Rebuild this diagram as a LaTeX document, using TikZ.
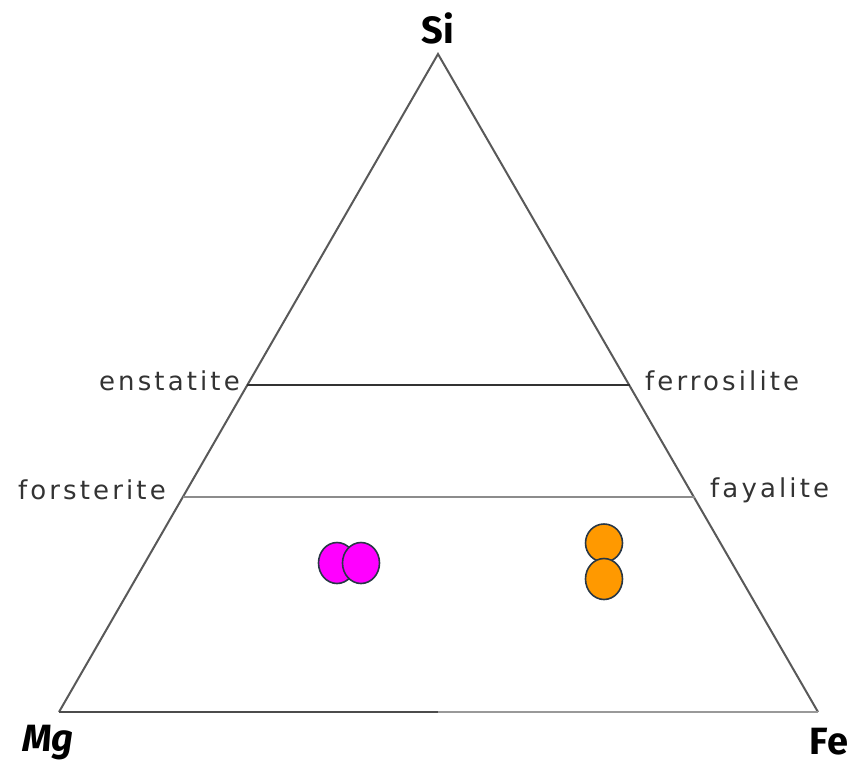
\documentclass[tikz,border=0pt]{standalone}
\usepackage{fontspec}
\setmainfont{Fira Sans}
\newfontfamily\lblfont[LetterSpace=12]{DejaVu Sans}
\definecolor{grainpink}{RGB}{255,0,255}
\definecolor{grainorange}{RGB}{255,153,0}
\definecolor{grainedge}{RGB}{40,55,70}
\begin{document}
\begin{tikzpicture}[x=1pt,y=-1pt,
  side/.style={draw=black!65, line width=2pt},
  tieline/.style={line width=2pt},
  lbl/.style={font=\lblfont\fontsize{26}{26}\selectfont, text=black!80, inner sep=0pt},
  corner/.style={font=\fontsize{38}{38}\selectfont\bfseries, inner sep=0pt},
  grain/.style={draw=grainedge, line width=1.6pt},
]
\useasboundingbox (0,0) rectangle (857,766);
\coordinate (si) at (438,54);
\coordinate (mg) at (59,712);
\coordinate (fe) at (818,712);
\coordinate (mid) at (438,712);
\coordinate (enL) at (247,385);
\coordinate (enR) at (630,385);
\coordinate (foL) at (183,497);
\coordinate (foR) at (695,497);
\draw[side] (mg) -- (si) -- (fe);
\draw[tieline, draw=black!70] (mg) -- (mid);
\draw[tieline, draw=black!40] (mid) -- (fe);
\draw[tieline, draw=black!80] (enL) -- (enR);
\draw[tieline, draw=black!45] (foL) -- (foR);
\node[corner] (tsi) at (438,28) {Si};
\node[corner, font=\fontsize{38}{38}\selectfont\bfseries\itshape] (tmg) at (48,743) {Mg};
\node[corner] (tfe) at (829,742) {Fe};
\node[lbl, anchor=east] (ten) at (240,381) {enstatite};
\node[lbl, anchor=west] (tfs) at (645,381) {ferrosilite};
\node[lbl, anchor=east] (tfo) at (166,490) {forsterite};
\node[lbl, anchor=west] (tfa) at (710,490) {fayalite};
\draw[grain, fill=grainpink] (337,563) ellipse (18.5pt and 20.5pt);
\draw[grain, fill=grainpink] (361,563) ellipse (18.5pt and 20.5pt);
\draw[grain, fill=grainorange] (604,543) ellipse (18.5pt and 19pt);
\draw[grain, fill=grainorange] (604,579) ellipse (18.5pt and 20.5pt);
\end{tikzpicture}
\end{document}
